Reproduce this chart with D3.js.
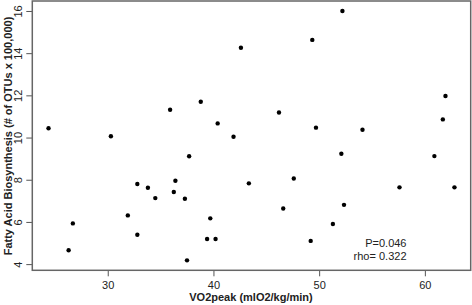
<!DOCTYPE html>
<html>
<head>
<meta charset="utf-8">
<script src="https://cdn.jsdelivr.net/npm/d3@7"></script>
<style>
  html, body { margin: 0; padding: 0; background: #fff; }
  svg { display: block; font-family: 'Liberation Sans', Arial, sans-serif; }
</style>
</head>
<body>
<div id="chart"></div>
<script>
// data
const vo2peak = [24.4, 26.3, 26.7, 30.3, 31.9, 32.8, 33.8, 34.5, 32.8, 35.9,
                 38.8, 40.4, 41.9, 42.6, 46.2, 49.35, 49.7, 37.7, 36.4, 36.25,
                 37.3, 39.7, 39.4, 40.2, 37.5, 43.35, 47.6, 46.6, 49.2, 52.2,
                 61.95, 61.7, 54.1, 52.1, 60.9, 57.6, 62.8, 52.35, 51.3];
const fattyAcid = [10.44, 4.66, 5.93, 10.06, 6.31, 7.80, 7.62, 7.13, 5.39, 11.32,
                   11.70, 10.67, 10.04, 14.26, 11.19, 14.63, 10.47, 9.11, 7.95, 7.42,
                   7.10, 6.17, 5.19, 5.19, 4.18, 7.83, 8.06, 6.64, 5.10, 16.0,
                   11.97, 10.86, 10.37, 9.23, 9.12, 7.64, 7.64, 6.81, 5.90];
const xTicks = [30, 40, 50, 60];
const yTicks = [4, 6, 8, 10, 12, 14, 16];
const statLines = ['P=0.046', 'rho= 0.322'];

const width = 472, height = 305;
const box = { left: 32.3, right: 470.7, top: 1, bottom: 270.3 };

const svg = d3.select('#chart').append('svg')
  .attr('width', width)
  .attr('height', height)
  .attr('viewBox', [0, 0, width, height]);

// R style padding: 4% each side of the data range
const xExt = d3.extent(vo2peak), yExt = d3.extent(fattyAcid);
const xPad = (xExt[1] - xExt[0]) * 0.04, yPad = (yExt[1] - yExt[0]) * 0.04;

const x = d3.scaleLinear().domain([xExt[0] - xPad, xExt[1] + xPad]).range([box.left, box.right]);
const y = d3.scaleLinear().domain([yExt[0] - yPad, yExt[1] + yPad]).range([box.bottom, box.top]);

// axes
const xAxis = svg.append('g')
  .attr('transform', `translate(0,${box.bottom})`)
  .call(d3.axisBottom(x).tickValues(xTicks).tickSize(6).tickPadding(4).tickSizeOuter(0));
const yAxis = svg.append('g')
  .attr('transform', `translate(${box.left},0)`)
  .call(d3.axisLeft(y).tickValues(yTicks).tickSize(6).tickPadding(4).tickSizeOuter(0));

[xAxis, yAxis].forEach(g => {
  g.select('.domain').remove();
  g.selectAll('line').attr('stroke', '#555').attr('stroke-width', 1);
  g.selectAll('text').attr('fill', '#222').style('font-size', '11px')
    .style('font-family', "'Liberation Sans', Arial, sans-serif");
});
xAxis.selectAll('text').attr('dy', '0.8em');
// tick groups are already translated to y(d), so only shift left and turn
yAxis.selectAll('text')
  .attr('text-anchor', 'middle')
  .attr('x', 0).attr('y', 0).attr('dy', 0)
  .attr('transform', 'translate(-10,0) rotate(-90)');

// frame
svg.append('rect')
  .attr('x', box.left).attr('y', box.top)
  .attr('width', box.right - box.left).attr('height', box.bottom - box.top)
  .attr('fill', 'none').attr('stroke', '#666').attr('stroke-width', 1.5);

// points
svg.append('g').selectAll('circle')
  .data(vo2peak.map((v, i) => [v, fattyAcid[i]]))
  .join('circle')
  .attr('cx', d => x(d[0]))
  .attr('cy', d => y(d[1]))
  .attr('r', 2.2)
  .attr('fill', '#000');

// stats
svg.append('g').selectAll('text')
  .data(statLines)
  .join('text')
  .attr('x', 406.5)
  .attr('y', (d, i) => 246.5 + i * 13.5)
  .attr('text-anchor', 'end')
  .attr('fill', '#222')
  .style('font-size', '11px')
  .text(d => d);

// axis titles
svg.append('text')
  .attr('x', 251)
  .attr('y', 300.5)
  .attr('text-anchor', 'middle')
  .attr('font-weight', 'bold')
  .attr('fill', '#222')
  .style('font-size', '11px')
  .text('VO2peak (mlO2/kg/min)');

svg.append('text')
  .attr('transform', 'translate(12,136) rotate(-90)')
  .attr('text-anchor', 'middle')
  .attr('font-weight', 'bold')
  .attr('fill', '#222')
  .style('font-size', '11px')
  .text('Fatty Acid Biosynthesis (# of OTUs x 100,000)');
</script>
</body>
</html>
